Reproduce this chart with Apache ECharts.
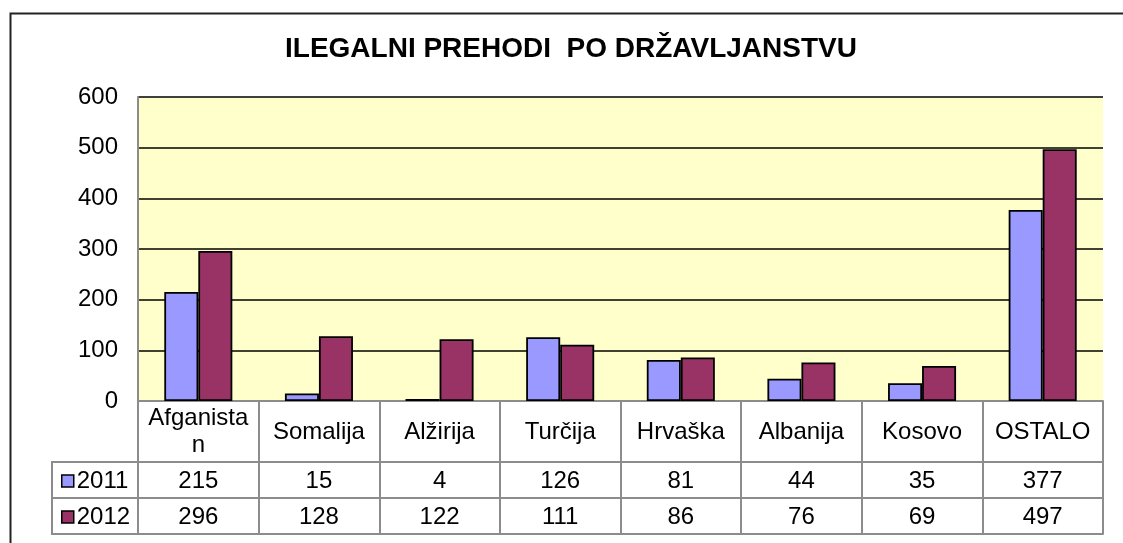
<!DOCTYPE html>
<html>
<head>
<meta charset="utf-8">
<script src="https://cdn.jsdelivr.net/npm/echarts@6/dist/echarts.min.js"></script>
<style>
html,body{margin:0;padding:0;background:#fff;}
#chart{width:1123px;height:543px;}
</style>
</head>
<body>
<div id="chart"></div>
<script>
var titleText = 'ILEGALNI PREHODI  PO DRŽAVLJANSTVU';
var categories = ['Afganistan', 'Somalija', 'Alžirija', 'Turčija', 'Hrvaška', 'Albanija', 'Kosovo', 'OSTALO'];
var seriesNames = ['2011', '2012'];
var values2011 = [215, 15, 4, 126, 81, 44, 35, 377];
var values2012 = [296, 128, 122, 111, 86, 76, 69, 497];
var yTicks = [0, 100, 200, 300, 400, 500, 600];

var FONT = 'Liberation Sans, Arial, sans-serif';
var GRAY = '#8c8c8c';
var G = {left: 138, right: 20, top: 97, bottom: 142};
var catRowH = 61, rowH = 36;
var plotBottom = 543 - G.bottom;

var chart = echarts.init(document.getElementById('chart'), null, {renderer: 'canvas'});

function tableAxis(data, offset, tickLen, showLabels, margin, fontSize) {
  return {
    type: 'category',
    data: data,
    position: 'bottom',
    offset: offset,
    gridIndex: 0,
    boundaryGap: true,
    axisLine: {show: true, lineStyle: {color: GRAY, width: 2}},
    axisTick: {show: tickLen > 0, length: tickLen, interval: 0, alignWithLabel: false, lineStyle: {color: GRAY, width: 2}},
    axisLabel: {
      show: showLabels, interval: 0, margin: margin, color: '#000',
      fontFamily: FONT, fontSize: fontSize, verticalAlign: 'middle',
      width: 108, overflow: 'break', lineHeight: 27
    },
    splitLine: {show: false}
  };
}

var option = {
  backgroundColor: '#fff',
  animation: false,
  title: {
    text: titleText,
    left: 285, top: 35, padding: 0,
    textStyle: {fontFamily: FONT, fontSize: 28, fontWeight: 'bold', color: '#000'}
  },
  legend: {
    orient: 'vertical',
    left: 61, top: 463, padding: 0, itemGap: 0,
    icon: 'rect', itemWidth: 12, itemHeight: 12,
    itemStyle: {borderColor: '#000', borderWidth: 1.5},
    textStyle: {fontFamily: FONT, fontSize: 24, color: '#000', lineHeight: 36, padding: [0, 0, 0, -2]},
    data: seriesNames
  },
  grid: {
    left: G.left, right: G.right, top: G.top, bottom: G.bottom,
    show: true, backgroundColor: '#FFFFCC', borderWidth: 0
  },
  xAxis: [
    tableAxis(categories, 0, catRowH, true, 31, 24),
    tableAxis(values2011.map(String), catRowH, rowH, true, 19, 24),
    tableAxis(values2012.map(String), catRowH + rowH, rowH, true, 19, 24),
    tableAxis(values2012.map(String), catRowH + 2 * rowH, 0, false, 0, 24)
  ],
  yAxis: {
    type: 'value', min: yTicks[0], max: yTicks[yTicks.length - 1], interval: 100,
    axisLine: {show: true, lineStyle: {color: GRAY, width: 2}},
    axisTick: {show: false},
    axisLabel: {color: '#000', fontFamily: FONT, fontSize: 24, margin: 20},
    splitLine: {show: true, lineStyle: {color: '#000', width: 1.5}}
  },
  series: [
    {
      name: seriesNames[0], type: 'bar', xAxisIndex: 0, data: values2011,
      barGap: '0%', barCategoryGap: '43.6%',
      itemStyle: {color: '#9999FF', borderColor: '#000', borderWidth: 1.8}
    },
    {
      name: seriesNames[1], type: 'bar', xAxisIndex: 0, data: values2012,
      barGap: '0%', barCategoryGap: '43.6%',
      itemStyle: {color: '#993366', borderColor: '#000', borderWidth: 1.8}
    }
  ],
  graphic: [
    {type: 'rect', left: 8, top: 11, z: -10, silent: true,
     shape: {x: 0, y: 0, width: 1200, height: 600},
     style: {fill: 'none', stroke: '#222', lineWidth: 2}},
    {type: 'rect', silent: true, z: 10,
     shape: {x: 52, y: plotBottom + catRowH, width: G.left - 52, height: 2 * rowH},
     style: {fill: 'none', stroke: GRAY, lineWidth: 2}},
    {type: 'line', silent: true, z: 10,
     shape: {x1: 52, y1: plotBottom + catRowH + rowH, x2: G.left, y2: plotBottom + catRowH + rowH},
     style: {stroke: GRAY, lineWidth: 2}}
  ]
};
chart.setOption(option);
</script>
</body>
</html>
